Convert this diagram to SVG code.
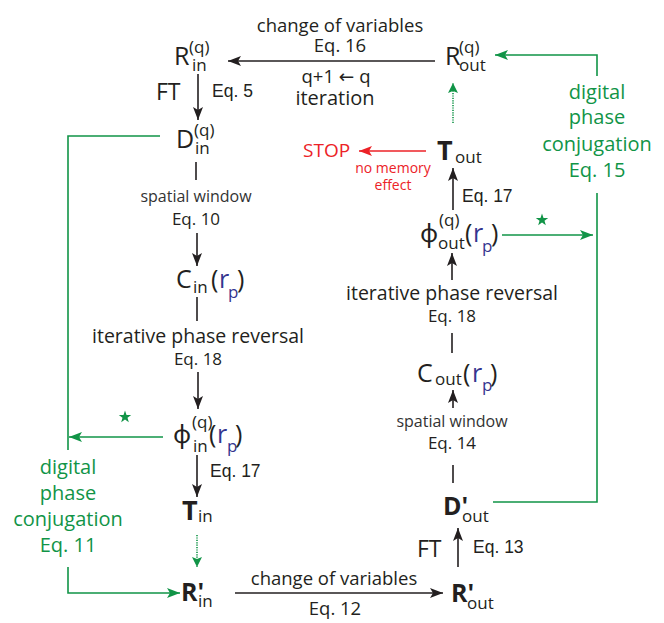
<svg xmlns="http://www.w3.org/2000/svg" width="664" height="623" viewBox="0 0 664 623">
<style>
text{font-family:'Open Sans','Noto Sans','DejaVu Sans',sans-serif;fill:#231f20}
.big{font-size:25px}
.sub{font-size:17px}
.bold{font-weight:700}
.lbl{font-size:18.5px;text-anchor:middle}
.small{font-size:16px;text-anchor:middle;fill:#333}
.eq{font-size:17px;text-anchor:middle}
.ar{font-family:'Liberation Sans',Arial,sans-serif;font-size:17.5px}
.blue{fill:#35358f}
.green{fill:#119447;font-size:20px;text-anchor:middle}
.red{fill:#ec2227}
.k{stroke:#231f20;stroke-width:1.6;fill:none}
.g{stroke:#119447;stroke-width:1.6;fill:none}
.r{stroke:#ec2227;stroke-width:1.6;fill:none}
.dot{stroke:#119447;stroke-width:1.6;fill:none;stroke-dasharray:1.2 1.2}
</style>
<defs>
<marker id="ak" markerUnits="userSpaceOnUse" markerWidth="14" markerHeight="11" refX="13" refY="5" orient="auto"><path d="M0,0 L13,5 L0,10 L3,5 z" fill="#231f20"/></marker>
<marker id="ag" markerUnits="userSpaceOnUse" markerWidth="14" markerHeight="11" refX="13" refY="5" orient="auto"><path d="M0,0 L13,5 L0,10 L3,5 z" fill="#119447"/></marker>
<marker id="ar" markerUnits="userSpaceOnUse" markerWidth="14" markerHeight="11" refX="13" refY="5" orient="auto"><path d="M0,0 L13,5 L0,10 L3,5 z" fill="#ec2227"/></marker>
<marker id="agd" markerUnits="userSpaceOnUse" markerWidth="11" markerHeight="11" refX="10" refY="5" orient="auto"><path d="M0,0 L10,5 L0,10 L2,5 z" fill="#119447"/></marker>
<path id="star" d="M0,-6.5 L1.5,-2.1 L6.2,-2 L2.5,0.8 L3.8,5.3 L0,2.6 L-3.8,5.3 L-2.5,0.8 L-6.2,-2 L-1.5,-2.1 z" fill="#119447"/>
</defs>

<g id="connectors">
<path class="k" d="M435,61 L228,61" marker-end="url(#ak)"/>
<path class="k" d="M198,74 L198,120" marker-end="url(#ak)"/>
<path class="k" d="M196,162 L196,180"/>
<path class="k" d="M197,233 L197,266" marker-end="url(#ak)"/>
<path class="k" d="M197,297 L197,321"/>
<path class="k" d="M198,372 L198,409" marker-end="url(#ak)"/>
<path class="k" d="M197,455 L197,497" marker-end="url(#ak)"/>
<path class="dot" d="M197,535 L197,567" marker-end="url(#agd)"/>
<path class="g" d="M160,136 L68,136 L68,450"/>
<path class="g" d="M163,437 L69,437" marker-end="url(#ag)"/>
<path class="g" d="M68,567 L68,593 L180,593" marker-end="url(#ag)"/>
<path class="k" d="M235,593 L443,593" marker-end="url(#ak)"/>
<path class="k" d="M458,567 L458,528" marker-end="url(#ak)"/>
<path class="k" d="M453,465 L453,483"/>
<path class="k" d="M453,408 L453,390" marker-end="url(#ak)"/>
<path class="k" d="M452,333 L452,353"/>
<path class="k" d="M452,280 L452,253" marker-end="url(#ak)"/>
<path class="k" d="M453,210 L453,168" marker-end="url(#ak)"/>
<path class="r" d="M426,151 L359,151" marker-end="url(#ar)"/>
<path class="dot" d="M453,123 L453,83" marker-end="url(#agd)"/>
<path class="g" d="M493,502 L597,502 L597,193"/>
<path class="g" d="M502,235 L593,235" marker-end="url(#ag)"/>
<path class="g" d="M597,76 L597,55 L495,55" marker-end="url(#ag)"/>
<use href="#star" x="125" y="417"/>
<use href="#star" x="542" y="220"/>
</g>

<g id="labels">
<text class="lbl" x="340" y="32">change of variables</text>
<text class="lbl" x="340" y="52">Eq. 16</text>
<text class="lbl" x="336" y="83">q+1 ← q</text>
<text class="lbl" x="335" y="105" style="font-size:20px">iteration</text>
<text x="156" y="100" style="font-size:23px">FT</text>
<text class="ar" x="212" y="97">Eq. 5</text>
<text class="small" x="196" y="202">spatial window</text>
<text class="eq" x="196" y="225">Eq. 10</text>
<text class="lbl" x="198" y="343" style="font-size:19.5px">iterative phase reversal</text>
<text class="eq" x="198" y="365">Eq. 18</text>
<text class="ar" x="210" y="477">Eq. 17</text>
<text class="green" x="68" y="474">digital</text>
<text class="green" x="68" y="500">phase</text>
<text class="green" x="68" y="526">conjugation</text>
<text class="green" x="68" y="552">Eq. 11</text>
<text class="lbl" x="334" y="585">change of variables</text>
<text class="lbl" x="335" y="615">Eq. 12</text>
<text x="417" y="557" style="font-size:23px">FT</text>
<text class="ar" x="473" y="553">Eq. 13</text>
<text class="small" x="452" y="427">spatial window</text>
<text class="eq" x="452" y="449">Eq. 14</text>
<text class="lbl" x="452" y="300" style="font-size:19.5px">iterative phase reversal</text>
<text class="eq" x="452" y="322">Eq. 18</text>
<text class="ar" x="462" y="202">Eq. 17</text>
<text class="red" x="393" y="173" style="font-size:14px;text-anchor:middle">no memory</text>
<text class="red" x="393" y="190" style="font-size:14px;text-anchor:middle">effect</text>
<text class="green" x="597" y="99">digital</text>
<text class="green" x="597" y="124">phase</text>
<text class="green" x="597" y="151">conjugation</text>
<text class="green" x="597" y="177">Eq. 15</text>
</g>

<g id="node-Rin-q">
<text class="big"><tspan x="174" y="65">R</tspan><tspan class="sub" x="189" y="53">(q)</tspan><tspan class="sub" x="192" y="71">in</tspan></text>
</g>
<g id="node-Rout-q">
<text class="big"><tspan x="445" y="65">R</tspan><tspan class="sub" x="459" y="53">(q)</tspan><tspan class="sub" x="459" y="71">out</tspan></text>
</g>
<g id="node-Din-q">
<text class="big"><tspan x="176" y="148">D</tspan><tspan class="sub" x="194" y="136">(q)</tspan><tspan class="sub" x="195" y="154">in</tspan></text>
</g>
<g id="node-Cin">
<text class="big"><tspan x="176" y="288">C</tspan><tspan class="sub" x="193" y="293">in</tspan><tspan x="211" y="288">(</tspan><tspan class="blue" x="219" y="288">r</tspan><tspan class="sub blue" x="228" y="298">p</tspan><tspan x="237" y="288">)</tspan></text>
</g>
<g id="node-phi-in">
<text class="big"><tspan x="173" y="443">ϕ</tspan><tspan class="sub" x="192" y="428">(q)</tspan><tspan class="sub" x="193" y="452">in</tspan><tspan x="209" y="443">(</tspan><tspan class="blue" x="217" y="443">r</tspan><tspan class="sub blue" x="227" y="452">p</tspan><tspan x="235" y="443">)</tspan></text>
</g>
<g id="node-Tin">
<text><tspan class="bold" x="182" y="520" style="font-size:27px">T</tspan><tspan class="sub" x="198" y="522">in</tspan></text>
</g>
<g id="node-Rin-prime">
<text class="big"><tspan class="bold" x="181" y="601">R'</tspan><tspan class="sub" x="198" y="607">in</tspan></text>
</g>
<g id="node-Rout-prime">
<text class="big"><tspan class="bold" x="451" y="602">R'</tspan><tspan class="sub" x="467" y="609">out</tspan></text>
</g>
<g id="node-Dout-prime">
<text class="big"><tspan class="bold" x="443" y="515">D'</tspan><tspan class="sub" x="462" y="522">out</tspan></text>
</g>
<g id="node-Cout">
<text class="big"><tspan x="417" y="382">C</tspan><tspan class="sub" x="435" y="385">out</tspan><tspan x="463" y="382">(</tspan><tspan class="blue" x="472" y="382">r</tspan><tspan class="sub blue" x="482" y="391">p</tspan><tspan x="490" y="382">)</tspan></text>
</g>
<g id="node-phi-out">
<text class="big"><tspan x="420" y="242">ϕ</tspan><tspan class="sub" x="439" y="226">(q)</tspan><tspan class="sub" x="438" y="249">out</tspan><tspan x="465" y="242">(</tspan><tspan class="blue" x="473" y="242">r</tspan><tspan class="sub blue" x="482" y="252">p</tspan><tspan x="491" y="242">)</tspan></text>
</g>
<g id="node-Tout">
<text><tspan class="bold" x="437" y="160" style="font-size:27px">T</tspan><tspan class="sub" x="455" y="163">out</tspan></text>
</g>
<g id="node-STOP">
<text class="red" x="303" y="157" style="font-size:19px">STOP</text>
</g>
</svg>
